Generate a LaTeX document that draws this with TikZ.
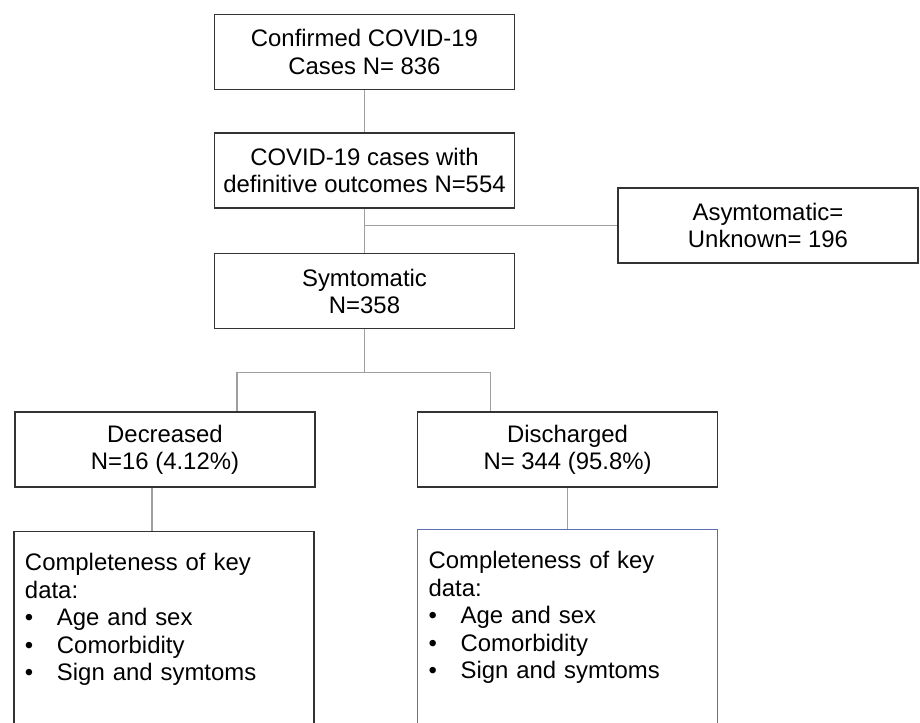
\documentclass[tikz,border=0pt]{standalone}
\usepackage{fontspec}
\setmainfont{Liberation Sans}
\usepackage{xcolor}
\usetikzlibrary{positioning, calc}

\definecolor{keyblue}{HTML}{5A70B0}
\newcommand{\keyitem}[1]{\makebox[0.64cm][l]{\textbullet}#1}

\begin{document}
\begin{tikzpicture}[
    node distance=0.84cm and 2.02cm,
    box/.style={draw=black!80, line width=0.9pt, align=center, minimum width=6cm, minimum height=1.5cm, inner sep=2pt, font=\fontsize{13.6}{15.5}\selectfont},
    databox/.style={draw=black!80, line width=0.9pt, anchor=north, text width=5.56cm, align=left, inner xsep=0.22cm, inner ysep=0.44cm, text depth=4cm, font=\fontsize{13.6}{15.6}\selectfont},
    link/.style={draw=gray!75, line width=0.6pt}
]
\clip (0,0) rectangle (18.4,-14.44);

\node[box] (conf) at (7.29,-1.04) {Confirmed COVID-19\\Cases N= 836};
\node[box, below=of conf] (outc) {COVID-19 cases with\\definitive outcomes N=554};
\node[box, below=0.88cm of outc] (symp) {Symtomatic\\N=358};
\node[box] (asym) at (15.36,-4.51) {Asymtomatic=\\Unknown= 196};

\node[box] (dec) at (3.3,-8.99) {Decreased\\N=16 (4.12\%)};
\node[box, right=of dec] (dis) {Discharged\\N= 344 (95.8\%)};

\node[databox, below=0.86cm of dec, xshift=-0.02cm] (keyl) {Completeness of key\\data:\\\keyitem{Age and sex}\\\keyitem{Comorbidity}\\\keyitem{Sign and symtoms}};
\node[databox, draw=keyblue, below=0.82cm of dis] (keyr) {Completeness of key\\data:\\\keyitem{Age and sex}\\\keyitem{Comorbidity}\\\keyitem{Sign and symtoms}};

% connectors
\coordinate (jn) at (outc.south |- asym.west);
\coordinate (br) at ($(symp.south)+(0,-0.86)$);
\coordinate (decin) at ([xshift=1.44cm]dec.north);
\coordinate (disin) at ([xshift=-1.54cm]dis.north);
\coordinate (decout) at ([xshift=-0.26cm]dec.south);

\draw[link] (conf) -- (outc);
\draw[link] (outc) -- (symp);
\draw[link] (jn) -- (asym);
\draw[link] (symp) -- (br);
\draw[link] (decin) |- (br) -| (disin);
\draw[link] (decout) -- (decout |- keyl.north);
\draw[link] (dis) -- (keyr);
\end{tikzpicture}
\end{document}
